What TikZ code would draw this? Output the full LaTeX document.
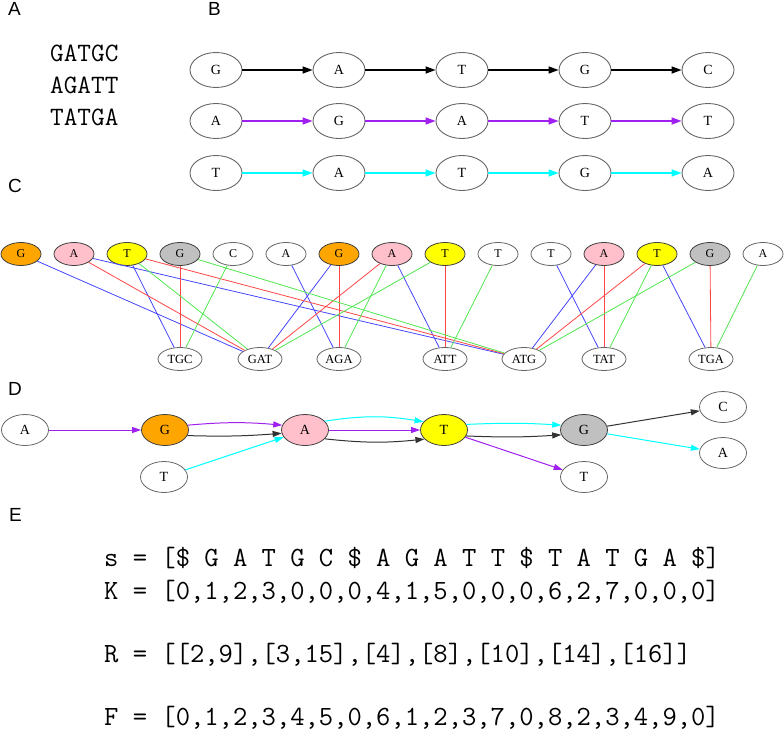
\documentclass[tikz,border=0pt]{standalone}
\usepackage{fontspec}
\setmainfont{Liberation Serif}
\newfontfamily\lblfont{Liberation Sans}
\usetikzlibrary{arrows.meta,shapes.geometric}
\definecolor{gvpurple}{HTML}{A020F0}
\definecolor{gvcyan}{HTML}{00FFFF}
\definecolor{gvorange}{HTML}{FFA500}
\definecolor{gvpink}{HTML}{FFC0CB}
\definecolor{gvyellow}{HTML}{FFFF00}
\definecolor{gvgray}{HTML}{C0C0C0}
\definecolor{nodeline}{HTML}{666666}
\definecolor{cblue}{RGB}{70,70,255}
\definecolor{cred}{RGB}{255,70,70}
\definecolor{cgreen}{RGB}{80,230,80}
\begin{document}
\begin{tikzpicture}[x=1pt,y=1pt,
  lbl/.style={anchor=base west,inner sep=0pt,font=\lblfont\fontsize{19}{19}\selectfont},
  seqtxt/.style={anchor=base west,inner sep=0pt,font=\ttfamily\fontsize{26.5}{26.5}\selectfont},
  etxt/.style={anchor=base west,inner sep=0pt,font=\ttfamily\fontsize{27.8}{27.8}\selectfont},
  bnode/.style={ellipse,draw=nodeline,line width=0.9pt,minimum width=52pt,minimum height=35pt,inner sep=0pt,font=\fontsize{14}{14}\selectfont},
  bedge/.style={line width=1.4pt,-{Triangle[length=10pt,width=7pt]}},
  ctop/.style={ellipse,line width=0.8pt,minimum width=40pt,minimum height=23pt,inner sep=0pt,font=\fontsize{12}{12}\selectfont},
  kmer/.style={ellipse,draw=nodeline,line width=0.8pt,minimum width=44pt,minimum height=23pt,inner sep=0pt,font=\fontsize{12.5}{12.5}\selectfont},
  cedge/.style={line width=0.8pt},
  dnode/.style={ellipse,draw=nodeline,line width=0.8pt,minimum width=47pt,minimum height=31pt,inner sep=0pt,font=\fontsize{14}{14}\selectfont},
  dedge/.style={line width=1pt,-{Triangle[length=9pt,width=6pt]}}
]
\path[use as bounding box] (0,0) rectangle (784,-736);

% panel labels
\node[lbl] (labA) at (8,-16) {A};
\node[lbl] (labB) at (208,-16) {B};
\node[lbl] (labC) at (8,-192) {C};
\node[lbl] (labD) at (8,-395) {D};
\node[lbl] (labE) at (9,-521) {E};

% panel A
\node[seqtxt] (sa1) at (50,-61.5) {GATGC};
\node[seqtxt] (sa2) at (50,-93) {AGATT};
\node[seqtxt] (sa3) at (50,-125) {TATGA};

% panel B
\foreach \x/\t [count=\i] in {216/G,339/A,462/T,585/G,708/C}
  \node[bnode] (b1\i) at (\x,-70) {\t};
\foreach \x/\t [count=\i] in {216/A,339/G,462/A,585/T,708/T}
  \node[bnode] (b2\i) at (\x,-121) {\t};
\foreach \x/\t [count=\i] in {216/T,339/A,462/T,585/G,708/A}
  \node[bnode] (b3\i) at (\x,-173) {\t};
\foreach \i/\j in {1/2,2/3,3/4,4/5}{
  \draw[bedge,black] (b1\i) -- (b1\j);
  \draw[bedge,gvpurple] (b2\i) -- (b2\j);
  \draw[bedge,gvcyan] (b3\i) -- (b3\j);
}

% panel C
\foreach \x/\t/\f/\d [count=\i] in {21/G/gvorange/black!75,74/A/gvpink/black!75,127/T/gvyellow/black!75,180/G/gvgray/black!75,233/C/white/nodeline,286/A/white/nodeline,339/G/gvorange/black!75,392/A/gvpink/black!75,445/T/gvyellow/black!75,498/T/white/nodeline,551/T/white/nodeline,604/A/gvpink/black!75,657/T/gvyellow/black!75,710/G/gvgray/black!75,763/A/white/nodeline}
  \node[ctop,fill=\f,draw=\d] (t\i) at (\x,-254) {\t};
\node[kmer] (kTGC) at (180,-359) {TGC};
\node[kmer] (kGAT) at (260,-359) {GAT};
\node[kmer] (kAGA) at (339,-359) {AGA};
\node[kmer] (kATT) at (445,-359) {ATT};
\node[kmer] (kATG) at (524,-359) {ATG};
\node[kmer] (kTAT) at (604,-359) {TAT};
\node[kmer] (kTGA) at (711,-359) {TGA};
\foreach \a/\k in {1/GAT,2/ATG,3/TGC,6/AGA,7/GAT,8/ATT,11/TAT,12/ATG,13/TGA}
  \draw[cedge,cblue] (t\a) -- (k\k);
\foreach \a/\k in {2/GAT,3/ATG,4/TGC,7/AGA,8/GAT,9/ATT,12/TAT,13/ATG,14/TGA}
  \draw[cedge,cred] (t\a) -- (k\k);
\foreach \a/\k in {3/GAT,4/ATG,5/TGC,8/AGA,9/GAT,10/ATT,13/TAT,14/ATG,15/TGA}
  \draw[cedge,cgreen] (t\a) -- (k\k);

% panel D
\node[dnode] (dA1) at (25,-430) {A};
\node[dnode,fill=gvorange,draw=black!75] (dG) at (165,-430) {G};
\node[dnode] (dT1) at (164,-477) {T};
\node[dnode,fill=gvpink,draw=black!75] (dA) at (305,-430) {A};
\node[dnode,fill=gvyellow,draw=black!75] (dT) at (444,-430) {T};
\node[dnode,fill=gvgray,draw=black!75] (dG2) at (584,-430) {G};
\node[dnode] (dC) at (723,-407) {C};
\node[dnode] (dA2) at (723,-453) {A};
\node[dnode] (dT2) at (584,-477) {T};

\draw[dedge,gvpurple] (dA1) -- (dG);
\draw[dedge,gvpurple] (dG.12) to[bend left=5] (dA.168);
\draw[dedge,black!80] (dG.-14) to[bend right=3] (dA.-172);
\draw[dedge,gvcyan] (dT1) -- (dA);
\draw[dedge,gvcyan] (dA.24) to[bend left=9] (dT.158);
\draw[dedge,gvpurple] (dA) -- (dT);
\draw[dedge,black!80] (dA.-24) to[bend right=6] (dT.-155);
\draw[dedge,gvcyan] (dT.14) to[bend left=3] (dG2.168);
\draw[dedge,black!80] (dT.-15) to[bend right=3] (dG2.-168);
\draw[dedge,gvpurple] (dT) -- (dT2);
\draw[dedge,black!80] (dG2) -- (dC);
\draw[dedge,gvcyan] (dG2) -- (dA2);

% panel E
\node[etxt] (es) at (104,-566) {s = [\$ G A T G C \$ A G A T T \$ T A T G A \$]};
\node[etxt] (ek) at (104,-599) {K = [0,1,2,3,0,0,0,4,1,5,0,0,0,6,2,7,0,0,0]};
\node[etxt] (er) at (104,-662) {R = [[2,9],[3,15],[4],[8],[10],[14],[16]]};
\node[etxt] (ef) at (104,-725) {F = [0,1,2,3,4,5,0,6,1,2,3,7,0,8,2,3,4,9,0]};
\end{tikzpicture}
\end{document}
